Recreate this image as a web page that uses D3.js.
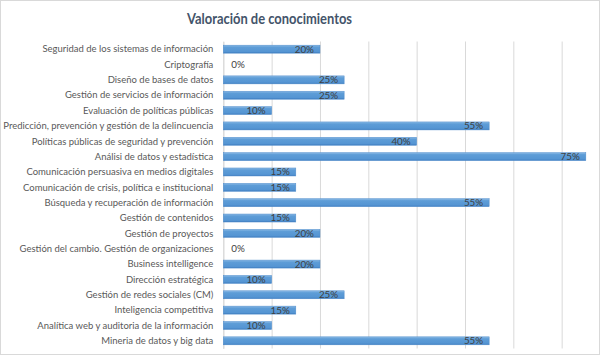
<!DOCTYPE html>
<html><head><meta charset="utf-8">
<script src="https://cdn.jsdelivr.net/npm/d3@7"></script>
<style>
html,body{margin:0;padding:0;background:#fff;}
svg{display:block;}
text{font-family:Lato,"Open Sans",sans-serif;}
</style></head>
<body>
<svg id="chart" width="600" height="355"></svg>
<script>
const title = "Valoración de conocimientos";
const categories = [
  "Seguridad de los sistemas de información",
  "Criptografía",
  "Diseño de bases de datos",
  "Gestión de servicios de información",
  "Evaluación de políticas públicas",
  "Predicción, prevención y gestión de la delincuencia",
  "Políticas públicas de seguridad y prevención",
  "Análisi de datos y estadística",
  "Comunicación persuasiva en medios digitales",
  "Comunicación de crisis, política e institucional",
  "Búsqueda y recuperación de información",
  "Gestión de contenidos",
  "Gestión de proyectos",
  "Gestión del cambio. Gestión de organizaciones",
  "Business intelligence",
  "Dirección estratégica",
  "Gestión de redes sociales (CM)",
  "Inteligencia competitiva",
  "Analítica web y auditoria de la información",
  "Mineria de datos y big data"
];
const values = [0.20,0,0.25,0.25,0.10,0.55,0.40,0.75,0.15,0.15,0.55,0.15,0.20,0,0.20,0.10,0.25,0.15,0.10,0.55];
const gridTicks = [0,0.1,0.2,0.3,0.4,0.5,0.6,0.7,0.8];

const svg = d3.select("#chart");
const W = 600, H = 355;
const m = {left:223.3, top:41.5, bottom:348.5};

svg.append("rect").attr("x",0.5).attr("y",0.5).attr("width",W-1).attr("height",H-1)
  .attr("fill","#fff").attr("stroke","#D9D9D9");

const x = d3.scaleLinear().domain([0,0.8]).range([m.left, 610]);
const y = d3.scaleBand().domain(categories).range([m.top, m.bottom]).paddingInner(0.48).paddingOuter(0.24);

const defs = svg.append("defs");
const g = defs.append("linearGradient").attr("id","barg").attr("x1",0).attr("y1",0).attr("x2",0).attr("y2",1);
g.append("stop").attr("offset","0%").attr("stop-color","#8DBBE6");
g.append("stop").attr("offset","25%").attr("stop-color","#5E9DD7");
g.append("stop").attr("offset","80%").attr("stop-color","#5595D3");
g.append("stop").attr("offset","100%").attr("stop-color","#3E7CBF");

// gridlines
svg.append("g").attr("class","grid")
  .attr("transform",`translate(0,${m.bottom})`)
  .call(d3.axisBottom(x).tickValues(gridTicks).tickSize(-(m.bottom-m.top)).tickFormat(""))
  .call(s=>s.select(".domain").remove())
  .call(s=>s.selectAll(".tick line").attr("stroke","#D9D9D9").attr("stroke-width",1));

// category axis
const ya = svg.append("g").attr("transform",`translate(${m.left},0)`)
  .call(d3.axisLeft(y).tickSize(0).tickPadding(10));
ya.select(".domain").attr("stroke","#D9D9D9");
const labs = ya.selectAll("text").attr("fill","#595959").style("font-size","10.2px").style("font-family","Lato, sans-serif");
let maxW = 0;
labs.each(function(){ maxW = Math.max(maxW, this.getComputedTextLength()); });
const k = Math.min(1, 210 / maxW);
labs.each(function(){
  const w = this.getComputedTextLength();
  d3.select(this).attr("textLength", w*k).attr("lengthAdjust","spacingAndGlyphs");
});

// bars
svg.append("g").selectAll("rect").data(values).join("rect")
  .attr("x", x(0))
  .attr("y",(d,i)=>y(categories[i]))
  .attr("width", d=>x(d)-x(0))
  .attr("height", y.bandwidth())
  .attr("fill","url(#barg)")
  .attr("stroke","#4F8CCB").attr("stroke-width",0.5);

// value labels
const fmt = d3.format(".0%");
svg.append("g").selectAll("text").data(values).join("text")
  .attr("x",d=> d===0 ? x(0)+8 : x(d)-6)
  .attr("y",(d,i)=>y(categories[i])+y.bandwidth()/2)
  .attr("dy","0.35em")
  .attr("text-anchor",d=> d===0 ? "start" : "end")
  .attr("fill","#404040")
  .style("font-size","9.8px")
  .text(d=>fmt(d));

svg.append("text").attr("x",269.5).attr("y",24).attr("text-anchor","middle")
  .attr("fill","#44546A").style("font-size","16px").style("font-weight","bold")
  .attr("textLength",165).attr("lengthAdjust","spacingAndGlyphs")
  .text(title);
</script>
</body></html>
